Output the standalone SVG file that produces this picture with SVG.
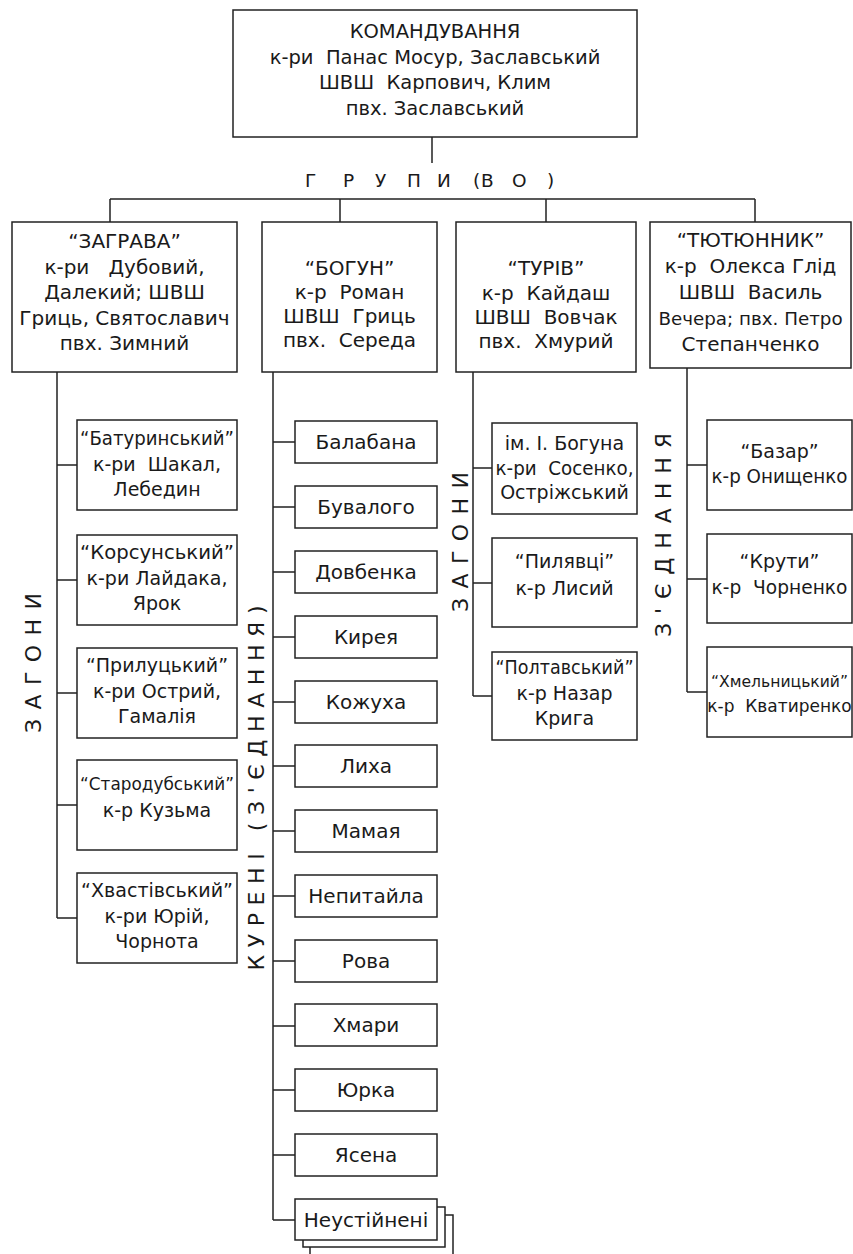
<svg xmlns="http://www.w3.org/2000/svg" width="853" height="1254" viewBox="0 0 853 1254">
<style>
.box{fill:#fff;stroke:#222;stroke-width:1.5}
.t{font-family:"DejaVu Sans","Liberation Sans",sans-serif;font-size:20px;fill:#1a1a1a;text-anchor:middle;white-space:pre}
.top{font-size:19.5px}
.s19{font-size:19px}
.sm{font-size:17px}
.v{font-family:"DejaVu Sans","Liberation Sans",sans-serif;font-size:22px;fill:#1a1a1a;text-anchor:middle;dominant-baseline:central;white-space:pre}
#connectors path{stroke:#222;stroke-width:1.5;fill:none}
</style>
<rect width="853" height="1254" fill="#fff"/>
<g id="connectors">
<path d="M432,137V163"/>
<path d="M110,199H755M110,199V222M340,199V222M546,199V222M755,199V222"/>
<path d="M57,372V918M57,465H77M57,580H77M57,693H77M57,805H77M57,918H77"/>
<path d="M273,372V1220M273,442H295M273,507H295M273,572H295M273,637H295M273,702H295M273,766H295M273,831H295M273,896H295M273,961H295M273,1026H295M273,1090H295M273,1155H295M273,1220H295"/>
<path d="M473,372V696M473,468H492M473,583H492M473,696H492"/>
<path d="M687,368V692M687,465H707M687,579H707M687,692H707"/>
</g>
<g id="n-command">
<rect class="box" x="233" y="10" width="404" height="127"/>
<text class="t top" x="435" y="38">КОМАНДУВАННЯ</text>
<text class="t top" x="435" y="64">к-ри  Панас Мосур, Заславський</text>
<text class="t top" x="435" y="89">ШВШ  Карпович, Клим</text>
<text class="t top" x="435" y="115">пвх. Заславський</text>
</g>
<g id="lbl-groups">
<text class="t" style="text-anchor:start;font-size:18.5px" x="305 343 375 407 437 473 481 512 547" y="187">ГРУПИ(ВО)</text>
</g>
<g id="n-zagrava">
<rect class="box" x="12" y="222" width="225" height="150"/>
<text class="t" x="124.5" y="248">“ЗАГРАВА”</text>
<text class="t" x="124.5" y="274">к-ри   Дубовий,</text>
<text class="t" x="124.5" y="299">Далекий; ШВШ</text>
<text class="t" x="124.5" y="325">Гриць, Святославич</text>
<text class="t" x="124.5" y="350">пвх. Зимний</text>
</g>
<g id="n-bohun">
<rect class="box" x="262" y="222" width="175" height="150"/>
<text class="t" x="349.5" y="275">“БОГУН”</text>
<text class="t" x="349.5" y="299">к-р  Роман</text>
<text class="t" x="349.5" y="323">ШВШ  Гриць</text>
<text class="t" x="349.5" y="347">пвх.  Середа</text>
</g>
<g id="n-turiv">
<rect class="box" x="456" y="222" width="180" height="150"/>
<text class="t" x="546" y="275">“ТУРІВ”</text>
<text class="t" x="546" y="300">к-р  Кайдаш</text>
<text class="t" x="546" y="324">ШВШ  Вовчак</text>
<text class="t" x="546" y="348">пвх.  Хмурий</text>
</g>
<g id="n-tiutiunnyk">
<rect class="box" x="650" y="222" width="201" height="146"/>
<text class="t" x="750.5" y="247">“ТЮТЮННИК”</text>
<text class="t" x="750.5" y="273">к-р  Олекса Глід</text>
<text class="t" x="750.5" y="299">ШВШ  Василь</text>
<text class="t" style="font-size:18.3px" x="750.5" y="325">Вечера; пвх. Петро</text>
<text class="t" x="750.5" y="351">Степанченко</text>
</g>
<g id="lbl-zahony-1"><text class="v" transform="translate(33,663) rotate(-90)" x="0" y="0" textLength="140" lengthAdjust="spacing">ЗАГОНИ</text></g>
<g id="lbl-kureni"><text class="v" transform="translate(256,788) rotate(-90)" x="0" y="0" textLength="365" lengthAdjust="spacing">КУРЕНІ (З'ЄДНАННЯ)</text></g>
<g id="lbl-zahony-2"><text class="v" transform="translate(460,542) rotate(-90)" x="0" y="0" textLength="140" lengthAdjust="spacing">ЗАГОНИ</text></g>
<g id="lbl-zyednannia"><text class="v" transform="translate(663,535) rotate(-90)" x="0" y="0" textLength="204" lengthAdjust="spacing">З'ЄДНАННЯ</text></g>
<g id="n-baturynskyi">
<rect class="box" x="77" y="420" width="160" height="90"/>
<text class="t s19" x="157" y="445" textLength="154" lengthAdjust="spacingAndGlyphs">“Батуринський”</text>
<text class="t s19" x="157" y="471">к-ри  Шакал,</text>
<text class="t s19" x="157" y="496">Лебедин</text>
</g>
<g id="n-korsunskyi">
<rect class="box" x="77" y="535" width="160" height="90"/>
<text class="t s19" x="157" y="559" textLength="154" lengthAdjust="spacingAndGlyphs">“Корсунський”</text>
<text class="t s19" x="157" y="585">к-ри Лайдака,</text>
<text class="t s19" x="157" y="610">Ярок</text>
</g>
<g id="n-prylutskyi">
<rect class="box" x="77" y="648" width="160" height="90"/>
<text class="t s19" x="157" y="672">“Прилуцький”</text>
<text class="t s19" x="157" y="698">к-ри Острий,</text>
<text class="t s19" x="157" y="723">Гамалія</text>
</g>
<g id="n-starodubskyi">
<rect class="box" x="77" y="760" width="160" height="90"/>
<text class="t sm" x="157" y="790" textLength="154" lengthAdjust="spacingAndGlyphs">“Стародубський”</text>
<text class="t s19" x="157" y="817">к-р Кузьма</text>
</g>
<g id="n-khvastivskyi">
<rect class="box" x="77" y="873" width="160" height="90"/>
<text class="t s19" x="157" y="897" textLength="152" lengthAdjust="spacingAndGlyphs">“Хвастівський”</text>
<text class="t s19" x="157" y="923">к-ри Юрій,</text>
<text class="t s19" x="157" y="948">Чорнота</text>
</g>
<g id="n-balabana"><rect class="box" x="295" y="421" width="142" height="42"/><text class="t" x="366" y="449">Балабана</text></g>
<g id="n-buvaloho"><rect class="box" x="295" y="486" width="142" height="42"/><text class="t" x="366" y="514">Бувалого</text></g>
<g id="n-dovbenka"><rect class="box" x="295" y="551" width="142" height="42"/><text class="t" x="366" y="579">Довбенка</text></g>
<g id="n-kyreia"><rect class="box" x="295" y="616" width="142" height="42"/><text class="t" x="366" y="644">Кирея</text></g>
<g id="n-kozhukha"><rect class="box" x="295" y="681" width="142" height="42"/><text class="t" x="366" y="709">Кожуха</text></g>
<g id="n-lykha"><rect class="box" x="295" y="745" width="142" height="42"/><text class="t" x="366" y="773">Лиха</text></g>
<g id="n-mamaia"><rect class="box" x="295" y="810" width="142" height="42"/><text class="t" x="366" y="838">Мамая</text></g>
<g id="n-nepytaila"><rect class="box" x="295" y="875" width="142" height="42"/><text class="t" x="366" y="903">Непитайла</text></g>
<g id="n-rova"><rect class="box" x="295" y="940" width="142" height="42"/><text class="t" x="366" y="968">Рова</text></g>
<g id="n-khmary"><rect class="box" x="295" y="1004" width="142" height="42"/><text class="t" x="366" y="1032">Хмари</text></g>
<g id="n-iurka"><rect class="box" x="295" y="1069" width="142" height="42"/><text class="t" x="366" y="1097">Юрка</text></g>
<g id="n-iasena"><rect class="box" x="295" y="1134" width="142" height="42"/><text class="t" x="366" y="1162">Ясена</text></g>
<g id="n-neustiineni">
<rect class="box" x="310" y="1215" width="143" height="50"/>
<rect class="box" x="303" y="1207" width="142" height="40"/>
<rect class="box" x="295" y="1199" width="142" height="41"/>
<text class="t" x="366" y="1227">Неустійнені</text>
</g>
<g id="n-bohuna">
<rect class="box" x="492" y="423" width="145" height="91"/>
<text class="t s19" x="564.5" y="450">ім. І. Богуна</text>
<text class="t s19" x="564.5" y="475" textLength="138" lengthAdjust="spacingAndGlyphs">к-ри  Сосенко,</text>
<text class="t s19" x="564.5" y="499">Остріжський</text>
</g>
<g id="n-pyliavtsi">
<rect class="box" x="492" y="538" width="145" height="89"/>
<text class="t s19" x="564.5" y="568">“Пилявці”</text>
<text class="t s19" x="564.5" y="595">к-р Лисий</text>
</g>
<g id="n-poltavskyi">
<rect class="box" x="492" y="652" width="145" height="88"/>
<text class="t s19" x="564.5" y="674" textLength="138" lengthAdjust="spacingAndGlyphs">“Полтавський”</text>
<text class="t s19" x="564.5" y="700">к-р Назар</text>
<text class="t s19" x="564.5" y="725">Крига</text>
</g>
<g id="n-bazar">
<rect class="box" x="707" y="420" width="145" height="90"/>
<text class="t s19" x="779.5" y="458">“Базар”</text>
<text class="t s19" x="779.5" y="483" textLength="136" lengthAdjust="spacingAndGlyphs">к-р Онищенко</text>
</g>
<g id="n-kruty">
<rect class="box" x="707" y="534" width="145" height="89"/>
<text class="t s19" x="779.5" y="568">“Крути”</text>
<text class="t s19" x="779.5" y="594" textLength="136" lengthAdjust="spacingAndGlyphs">к-р  Чорненко</text>
</g>
<g id="n-khmelnytskyi">
<rect class="box" x="707" y="647" width="145" height="90"/>
<text class="t" style="font-size:15.6px" x="779.5" y="687">“Хмельницький”</text>
<text class="t" style="font-size:17px" x="779.5" y="712">к-р  Кватиренко</text>
</g>
</svg>
